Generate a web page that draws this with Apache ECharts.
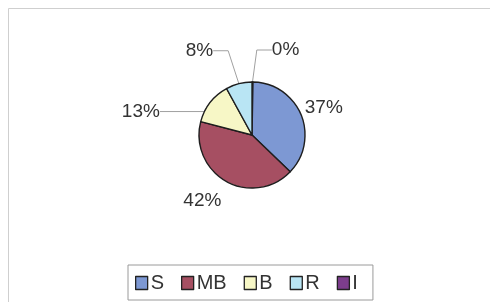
<!DOCTYPE html>
<html>
<head>
<meta charset="utf-8">
<script src="https://cdn.jsdelivr.net/npm/echarts@6/dist/echarts.min.js"></script>
<style>
  html, body { margin: 0; padding: 0; background: #fff; }
  #chart { width: 490px; height: 302px; }
</style>
</head>
<body>
<div id="chart"></div>
<script>
// categories and shares (percent), in legend order
const categories = ['S', 'MB', 'B', 'R', 'I']
const shares = [37, 42, 13, 8, 0.3]
const shareLabels = ['37%', '42%', '13%', '8%', '0%']
const colors = ['#7d98d3', '#a64f62', '#f7f7c6', '#b9e5f4', '#7c3d8c']
// the empty "I" slice sits right at 12 o'clock, just before S
const drawOrder = [4, 0, 1, 2, 3]

const chart = echarts.init(document.getElementById('chart'), null, {renderer: 'canvas'})

// label line tweaks per category, excel style leaders only on the small ones
const lineCfg = [
  {show: false, length: 2, length2: 0},
  {show: false, length: 22, length2: -8},
  {show: true, length: 3, length2: 44},
  {show: true, length: 35, length2: 15},
  {show: true, length: 33, length2: 15}
]
// small nudges of the label text from where the pie put it
const labelNudge = [[0, -6], [0, 0], [-2, 11], [0, 1], [2, 1]]

let option = {
  animation: false,
  textStyle: {fontFamily: 'Liberation Sans, Arial, sans-serif'},
  graphic: [{
    type: 'rect',
    shape: {x: 8.5, y: 8.5, width: 490, height: 300},
    style: {fill: 'none', stroke: '#cfcfcf', lineWidth: 1}
  }],
  legend: {
    data: categories,
    bottom: 2,
    left: 128,
    orient: 'horizontal',
    padding: [8, 15, 7, 7],
    itemGap: 17,
    itemWidth: 12,
    itemHeight: 13,
    icon: 'rect',
    borderColor: '#9a9a9a',
    borderWidth: 1,
    textStyle: {fontSize: 20, color: '#333', padding: [0, 0, 0, -2]},
    itemStyle: {borderColor: '#222', borderWidth: 1.3}
  },
  series: [{
    type: 'pie',
    center: [252, 135],
    radius: 53,
    startAngle: 90,
    clockwise: true,
    avoidLabelOverlap: false,
    itemStyle: {borderColor: '#1e1e1e', borderWidth: 1.4},
    label: {
      show: true,
      position: 'outside',
      fontSize: 19,
      color: '#333',
      distanceToLabelLine: 2,
      formatter: p => shareLabels[categories.indexOf(p.name)]
    },
    labelLine: {lineStyle: {color: '#a0a0a0', width: 1}},
    labelLayout: p => {
      const n = labelNudge[drawOrder[p.dataIndex]]
      const r = p.labelRect
      let ax = r.x + r.width / 2
      if (p.align === 'right') ax = r.x + r.width
      if (p.align === 'left') ax = r.x
      return {x: ax + n[0], y: r.y + r.height / 2 + n[1]}
    },
    emphasis: {disabled: true},
    data: drawOrder.map(i => ({
      name: categories[i],
      value: shares[i],
      itemStyle: {color: colors[i]},
      labelLine: lineCfg[i]
    }))
  }]
}

chart.setOption(option)
</script>
</body>
</html>
